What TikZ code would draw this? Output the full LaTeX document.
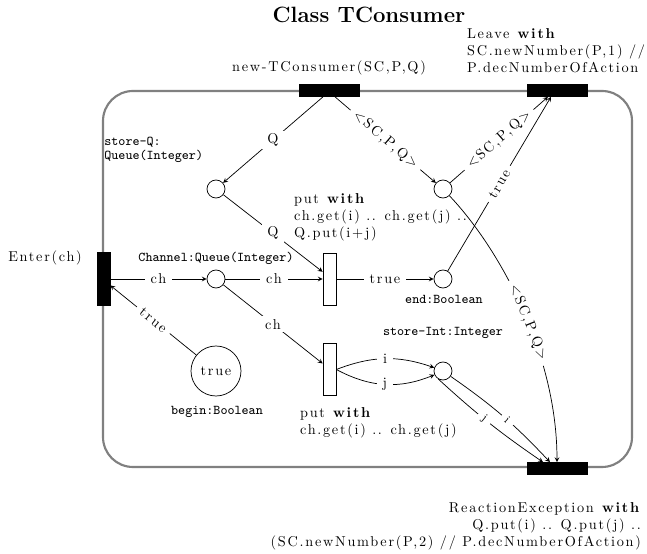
\documentclass[tikz,border=0pt]{standalone}
\usepackage{fontspec}
\setmainfont{Latin Modern Roman}[LetterSpace=12]
\setmonofont{Latin Modern Mono}
\newfontfamily\titlefont{Latin Modern Roman}
\usetikzlibrary{positioning}

\begin{document}
\begin{tikzpicture}[x=0.7pt,y=0.7pt,>=stealth,line width=0.5pt,
	bar/.style={draw,fill=black,inner sep=0pt,minimum width=42pt,minimum height=8.4pt},
	vbar/.style={draw,fill=black,inner sep=0pt,minimum width=9.1pt,minimum height=37.1pt},
	trans/.style={draw,fill=white,inner sep=0pt,minimum width=9.1pt,minimum height=36.4pt},
	place/.style={draw,circle,fill=white,inner sep=0pt,minimum size=12.6pt},
	lab/.style={fill=white,inner xsep=4pt,inner ysep=2pt},
	tlab/.style={font=\fontsize{9.4}{10}\selectfont\ttfamily,inner sep=0pt}]
	\useasboundingbox (0,0) rectangle (647,554);
	\node[font=\titlefont\fontsize{15.5}{18}\selectfont\bfseries] (title) at (369,539) {Class TConsumer};
	\draw[gray,line width=1.5pt,rounded corners=21pt] (103,87) rectangle (632,463);	%class border
	%BARS
	\node[bar] (newT) at (329,463.5) {};
	\node[bar] (leave) at (557,463.5) {};
	\node[bar] (exc) at (557,85.5) {};
	\node[vbar] (enter) at (103.5,275) {};
	\node[trans] (put1) at (329.5,275) {};
	\node[trans] (put2) at (329.5,184.5) {};
	%PLACES
	\node[place] (storeQ) at (216,365) {};
	\node[place] (scp) at (443,365) {};
	\node[place] (chan) at (216,275) {};
	\node[place] (endp) at (443,275) {};
	\node[place] (storeInt) at (443,183) {};
	\node[place,minimum size=35pt] (beginp) at (216,183) {true};
	%ARCS
	\draw[->] ([xshift=-4.2pt]newT.south) -- node[lab]{Q} (storeQ);
	\draw[->] (storeQ) -- node[lab]{Q} ([yshift=5pt]put1.west);
	\draw[->] ([xshift=4.2pt]newT.south) -- node[lab,sloped]{<SC,P,Q>} (scp);
	\draw[->] (scp) -- node[lab,sloped]{<SC,P,Q>} ([xshift=-6.3pt]leave.south);
	\draw[->] (endp) -- node[lab,sloped]{true} ([xshift=-4.2pt]leave.south);
	\draw[->] (scp) .. controls (500,305) and (557,200) .. node[lab,sloped,pos=0.55]{<SC,P,Q>} (exc.north);
	\draw[->] (enter) -- node[lab]{ch} (chan);
	\draw[->] (chan) -- node[lab]{ch} (put1);
	\draw[->] (put1) -- node[lab]{true} (endp);
	\draw[->] (chan) -- node[lab]{ch} ([yshift=4.2pt]put2.west);
	\draw[->] (beginp) -- node[lab,sloped]{true} ([yshift=-4.5pt]enter.east);
	\draw[->] (put2.east) to[bend left=20] node[lab]{i} (storeInt);
	\draw[->] (put2.east) to[bend right=25] node[lab]{j} (storeInt);
	\draw[->] (storeInt.-35) to[bend left=6] node[lab,sloped,pos=0.55,font=\footnotesize]{i} ([xshift=-4.9pt]exc.north);
	\draw[->] (storeInt.-120) to[bend right=4] node[lab,sloped,pos=0.45,font=\footnotesize]{j} ([xshift=-9.8pt]exc.north);
	%LABELS
	\node[above=3pt of newT] (newTtxt) {new-TConsumer(SC,P,Q)};
	\node[anchor=west,align=left] (leavetxt) at (462,503) {Leave \textbf{with}\\SC.newNumber(P,1) //\\P.decNumberOfAction};
	\node[anchor=east,align=right] (exctxt) at (646,28) {ReactionException \textbf{with}\\Q.put(i) .. Q.put(j) ..\\(SC.newNumber(P,2) // P.decNumberOfAction)};
	\node (entertxt) at (45,296) {Enter(ch)};
	\node[anchor=west,align=left] (put1txt) at (289,337) {put \textbf{with}\\ch.get(i) .. ch.get(j) ..\\Q.put(i+j)};
	\node[anchor=west,align=left] (put2txt) at (295,131) {put \textbf{with}\\ch.get(i) .. ch.get(j)};
	\node[tlab,anchor=west,align=left] (storeQtxt) at (104,404) {store-Q:\\Queue(Integer)};
	\node[tlab] (chantxt) at (216,296) {Channel:Queue(Integer)};
	\node[tlab] (endtxt) at (444,255) {end:Boolean};
	\node[tlab] (storeInttxt) at (443,221) {store-Int:Integer};
	\node[tlab] (begintxt) at (217,142) {begin:Boolean};
\end{tikzpicture}
\end{document}
